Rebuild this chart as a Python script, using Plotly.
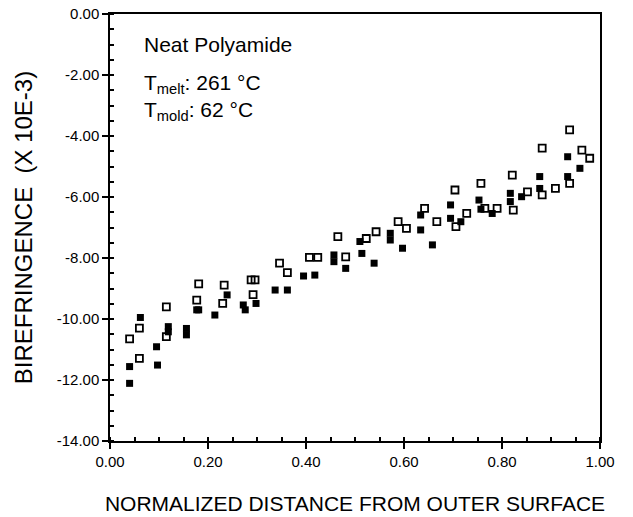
import plotly.graph_objects as go

# Filled squares series
filled_x = [0.040, 0.040, 0.062, 0.095, 0.097, 0.119, 0.119, 0.156, 0.156, 0.177, 0.181,
            0.214, 0.239, 0.272, 0.276, 0.298, 0.337, 0.362, 0.395, 0.418, 0.457, 0.457,
            0.481, 0.510, 0.514, 0.539, 0.572, 0.572, 0.597, 0.634, 0.634, 0.658, 0.695,
            0.695, 0.716, 0.753, 0.757, 0.780, 0.817, 0.817, 0.840, 0.877, 0.877, 0.934,
            0.934, 0.959]
filled_y = [-11.56, -12.11, -9.95, -10.91, -11.51, -10.25, -10.42, -10.31, -10.52, -9.70, -9.70,
            -9.87, -9.21, -9.54, -9.70, -9.49, -9.05, -9.05, -8.59, -8.56, -7.90, -8.12,
            -8.34, -7.46, -7.85, -8.17, -7.19, -7.41, -7.68, -6.59, -7.08, -7.57, -6.26,
            -6.70, -6.81, -6.10, -6.40, -6.54, -5.88, -6.15, -5.99, -5.33, -5.72, -4.68,
            -5.33, -5.06]

# Open squares series
open_x = [0.040, 0.060, 0.060, 0.115, 0.115, 0.181, 0.177, 0.233, 0.230, 0.288, 0.296,
          0.292, 0.346, 0.362, 0.407, 0.424, 0.465, 0.481, 0.523, 0.543, 0.588, 0.605,
          0.642, 0.667, 0.704, 0.706, 0.728, 0.757, 0.765, 0.790, 0.821, 0.823, 0.852,
          0.882, 0.882, 0.909, 0.938, 0.938, 0.963, 0.979]
open_y = [-10.65, -10.30, -11.29, -9.60, -10.58, -8.85, -9.38, -8.89, -9.49, -8.72, -8.72,
          -9.20, -8.17, -8.48, -7.98, -7.98, -7.30, -7.96, -7.36, -7.14, -6.81, -7.03,
          -6.37, -6.81, -5.77, -6.97, -6.54, -5.55, -6.37, -6.37, -5.28, -6.43, -5.83,
          -4.40, -5.93, -5.72, -3.80, -5.55, -4.46, -4.73]

x_ticks = [0.0, 0.2, 0.4, 0.6, 0.8, 1.0]
x_tick_labels = ["0.00", "0.20", "0.40", "0.60", "0.80", "1.00"]
y_ticks = [0, -2, -4, -6, -8, -10, -12, -14]
y_tick_labels = ["0.00", "-2.00", "-4.00", "-6.00", "-8.00", "-10.00", "-12.00", "-14.00"]

FONT = "Liberation Sans, Arial, Helvetica, sans-serif"

fig = go.Figure()
fig.add_trace(go.Scatter(
    x=open_x, y=open_y, mode="markers",
    marker=dict(symbol="square-open", size=7, color="black", line=dict(width=1.8, color="black")),
    showlegend=False))
fig.add_trace(go.Scatter(
    x=filled_x, y=filled_y, mode="markers",
    marker=dict(symbol="square", size=7, color="black"),
    showlegend=False))

annots = [
    dict(x=0.065, y=-0.99, text="Neat Polyamide"),
    dict(x=0.065, y=-2.28, text="T<sub>melt</sub>: 261 °C"),
    dict(x=0.065, y=-3.17, text="T<sub>mold</sub>: 62 °C"),
]
for a in annots:
    fig.add_annotation(x=a["x"], y=a["y"], text=a["text"], xref="x", yref="y",
                       xanchor="left", yanchor="middle", showarrow=False,
                       font=dict(family=FONT, size=21, color="black"))

fig.update_layout(
    width=633, height=517,
    margin=dict(l=110, r=33, t=14, b=76),
    paper_bgcolor="white", plot_bgcolor="white",
    font=dict(family=FONT, color="black"),
    xaxis=dict(
        range=[0, 1], tickvals=x_ticks, ticktext=x_tick_labels,
        showgrid=False, zeroline=False, automargin=False,
        showline=True, linecolor="black", linewidth=1.5, mirror=True,
        ticks="outside", ticklen=6, tickcolor="black", tickwidth=1.5,
        minor=dict(dtick=0.05, ticks="inside", ticklen=4, tickcolor="black", tickwidth=1.5),
        tickfont=dict(family=FONT, size=15, color="black"),
        title=dict(text="NORMALIZED DISTANCE FROM OUTER SURFACE",
                   font=dict(family=FONT, size=21, color="black"), standoff=28),
    ),
    yaxis=dict(
        range=[-14, 0], tickvals=y_ticks, ticktext=y_tick_labels,
        showgrid=False, zeroline=False, automargin=False,
        showline=True, linecolor="black", linewidth=1.5, mirror=True,
        ticks="outside", ticklen=6, tickcolor="black", tickwidth=1.5,
        minor=dict(dtick=0.5, ticks="inside", ticklen=4, tickcolor="black", tickwidth=1.5),
        tickfont=dict(family=FONT, size=15, color="black"),
        title=dict(text="BIREFRINGENCE  (X 10E-3)",
                   font=dict(family=FONT, size=24, color="black"), standoff=17),
    ),
)

fig.write_html("out.html")
